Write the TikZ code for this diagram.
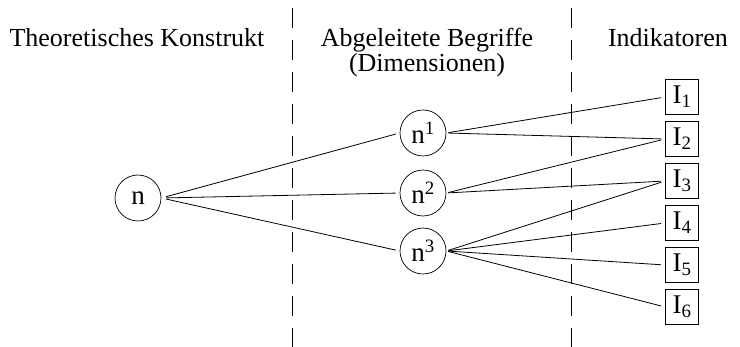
\documentclass[tikz,border=0pt]{standalone}
\usepackage{fontspec}
\setmainfont{Liberation Serif}
\newfontfamily\antiqua{Liberation Serif}
\usepackage{tikz}

\begin{document}
\begin{tikzpicture}[x=1pt, y=-1pt,
	kopf/.style={anchor=base, align=center, font=\antiqua\fontsize{26}{25}\selectfont},
	kreis/.style={draw, circle, minimum size=46pt, inner sep=0pt, line width=0.7pt, font=\antiqua\fontsize{27}{27}\selectfont},
	ind/.style={draw, rectangle, minimum width=33pt, minimum height=35pt, inner sep=0pt, line width=0.7pt, font=\antiqua\fontsize{27}{27}\selectfont},
	linie/.style={line width=0.8pt, shorten <=2pt, shorten >=4pt},
	trenn/.style={line width=0.6pt, dash pattern=on 20pt off 12pt}
	]
	\useasboundingbox (0,0) rectangle (740,347);

	% Spaltenkoepfe
	\node[kopf] (k1) at (137,47) {Theoretisches Konstrukt};
	\node[kopf] (k2) at (427,47) {Abgeleitete Begriffe};
	\node[kopf] (k2b) at (427,72) {(Dimensionen)};
	\node[kopf] (k3) at (668,47) {Indikatoren};

	% Trennlinien
	\draw[trenn] (292,8) -- (292,347);
	\draw[trenn] (571,8) -- (571,347);

	\node[kreis] (n) at (138,198) {n};
	\node[kreis] (n1) at (423,133) {n\textsuperscript{1}};
	\node[kreis] (n2) at (423,193) {n\textsuperscript{2}};
	\node[kreis] (n3) at (423,251) {n\textsuperscript{3}};

	\node[ind] (i1) at (682,97) {I\textsubscript{1}};
	\node[ind] (i2) at (682,139) {I\textsubscript{2}};
	\node[ind] (i3) at (682,181) {I\textsubscript{3}};
	\node[ind] (i4) at (682,223) {I\textsubscript{4}};
	\node[ind] (i5) at (682,265) {I\textsubscript{5}};
	\node[ind] (i6) at (682,307) {I\textsubscript{6}};

	\draw[linie, shorten <=5pt] (n.east) -- (n1.west);
	\draw[linie, shorten <=5pt] (n.east) -- (n2.west);
	\draw[linie, shorten <=5pt] (n.east) -- (n3.west);

	\draw[linie] (n1.east) -- (i1.west);
	\draw[linie] (n1.east) -- (i2.west);
	\draw[linie] (n2.east) -- (i2.west);
	\draw[linie] (n2.east) -- (i3.west);
	\draw[linie] (n3.east) -- (i3.west);
	\draw[linie] (n3.east) -- (i4.west);
	\draw[linie] (n3.east) -- (i5.west);
	\draw[linie] (n3.east) -- (i6.west);
\end{tikzpicture}
\end{document}
